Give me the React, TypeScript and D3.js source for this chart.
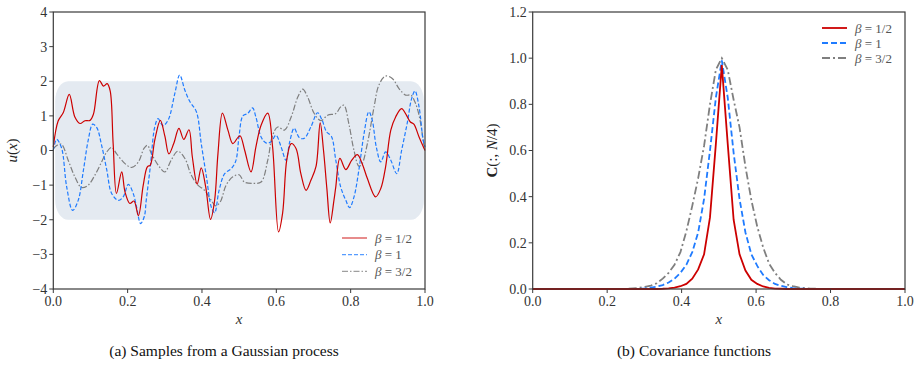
import React from 'react';
import * as d3 from 'd3';

// (a) samples
const RED_X = [0, 0.013, 0.027, 0.043, 0.058, 0.072, 0.085, 0.099, 0.108, 0.124, 0.135, 0.145, 0.153, 0.161, 0.17, 0.184, 0.193, 0.206, 0.217, 0.229, 0.242, 0.253, 0.261, 0.273, 0.288, 0.3, 0.311, 0.324, 0.338, 0.351, 0.365, 0.374, 0.387, 0.398, 0.41, 0.423, 0.434, 0.443, 0.455, 0.47, 0.483, 0.497, 0.503, 0.515, 0.532, 0.545, 0.559, 0.577, 0.59, 0.606, 0.617, 0.628, 0.64, 0.653, 0.666, 0.68, 0.693, 0.707, 0.718, 0.727, 0.736, 0.745, 0.755, 0.76, 0.771, 0.787, 0.803, 0.818, 0.831, 0.845, 0.867, 0.881, 0.894, 0.908, 0.921, 0.937, 0.95, 0.96, 0.97, 0.984, 1.0];
const RED_Y = [0.1, 0.85, 1.1, 1.62, 0.97, 0.78, 0.86, 0.87, 1.05, 2.02, 1.86, 1.93, 1.72, 0.2, -1.24, -0.62, -1.2, -1.53, -1.46, -1.88, -1.0, -0.47, -0.42, 0.3, 0.87, 0.42, -0.1, 0.2, 0.64, 0.32, 0.6, -0.18, -0.97, -0.5, -1.05, -1.99, -1.44, -0.09, 1.08, 0.58, 0.2, 0.38, 0.42, 0.0, -0.62, 0.1, 0.73, 1.08, 0.1, -2.35, -1.8, -0.28, 0.2, 0.06, -0.67, -1.15, -0.86, -0.45, 0.8, 0.0, -1.1, -2.09, -1.44, -1.05, -0.23, -0.55, -0.28, -0.12, -0.38, -0.81, -1.34, -1.1, -0.47, 0.59, 0.97, 1.21, 1.02, 0.83, 0.76, 0.39, 0.0];

const BLUE_X = [0, 0.009, 0.022, 0.036, 0.052, 0.067, 0.081, 0.094, 0.106, 0.117, 0.13, 0.144, 0.157, 0.175, 0.188, 0.202, 0.215, 0.224, 0.235, 0.245, 0.25, 0.261, 0.273, 0.282, 0.295, 0.309, 0.327, 0.34, 0.354, 0.367, 0.385, 0.398, 0.412, 0.425, 0.434, 0.446, 0.461, 0.479, 0.491, 0.5, 0.51, 0.523, 0.536, 0.545, 0.559, 0.572, 0.586, 0.599, 0.613, 0.626, 0.636, 0.648, 0.662, 0.675, 0.693, 0.711, 0.723, 0.735, 0.748, 0.76, 0.773, 0.787, 0.797, 0.809, 0.822, 0.836, 0.849, 0.858, 0.869, 0.881, 0.894, 0.908, 0.924, 0.937, 0.952, 0.964, 0.973, 0.984, 0.995, 1.0];
const BLUE_Y = [0.0, 0.32, 0.08, -1.05, -1.73, -1.44, -0.57, 0.3, 0.76, 0.66, 0.15, -0.57, -1.24, -1.44, -1.34, -0.98, -1.24, -1.63, -2.11, -1.9, -1.44, -0.47, 0.68, 0.92, 0.72, 0.88, 1.65, 2.18, 1.74, 1.42, 1.12, 0.2, -0.76, -1.63, -1.8, -1.15, -0.67, -0.52, -0.3, 0.44, 1.0, 1.07, 1.23, 0.97, 0.39, 0.22, 0.25, 0.44, 0.1, -0.28, 0.25, 0.64, 0.37, 0.35, 0.68, 1.09, 0.88, 0.54, 0.41, -0.28, -1.05, -1.44, -1.65, -1.34, -0.57, 0.49, 1.12, 0.88, 0.1, -0.33, -0.04, -0.28, -0.67, 0.0, 0.78, 1.5, 1.72, 1.26, 0.3, 0.1];

const GRAY_X = [0, 0.01, 0.022, 0.04, 0.058, 0.076, 0.094, 0.112, 0.13, 0.144, 0.157, 0.17, 0.193, 0.211, 0.229, 0.244, 0.253, 0.264, 0.282, 0.3, 0.317, 0.335, 0.354, 0.371, 0.389, 0.407, 0.425, 0.437, 0.449, 0.465, 0.483, 0.5, 0.514, 0.536, 0.559, 0.577, 0.59, 0.604, 0.622, 0.64, 0.658, 0.671, 0.684, 0.702, 0.72, 0.738, 0.76, 0.773, 0.782, 0.795, 0.809, 0.822, 0.83, 0.845, 0.863, 0.876, 0.894, 0.912, 0.93, 0.948, 0.962, 0.973, 0.984, 0.997];
const GRAY_Y = [0.05, 0.15, 0.18, -0.28, -0.76, -1.07, -1.0, -0.71, -0.33, -0.04, 0.09, -0.09, -0.38, -0.49, -0.33, 0.06, 0.15, -0.09, -0.42, -0.62, -0.28, -0.02, -0.23, -0.71, -1.0, -1.15, -1.44, -1.6, -1.49, -1.0, -0.76, -0.7, -0.91, -0.95, -0.91, -0.28, 0.44, 0.68, 0.59, 0.97, 1.55, 1.77, 1.55, 1.07, 0.86, 1.02, 1.07, 1.26, 1.31, 0.78, 0.0, -0.45, -0.4, 0.2, 1.26, 1.89, 2.15, 2.08, 1.79, 1.6, 1.6, 1.4, 1.02, 0.15];

// shaded band behind the samples
const BAND_X = [0.005, 0.997];
const BAND_Y = [-2, 2];

// (b) covariance columns on a 64-point grid
const COV_RED = [0, 0, 0, 0, 0, 0, 0, 0, 0, 0, 0, 0, 0, 0, 0, 0, 0, 0, 0, 0, 0, 0, 0.001, 0.003, 0.006, 0.012, 0.022, 0.045, 0.085, 0.15, 0.31, 0.63, 0.97, 0.63, 0.3, 0.15, 0.08, 0.04, 0.022, 0.011, 0.005, 0.002, 0.001, 0, 0, 0, 0, 0, 0, 0, 0, 0, 0, 0, 0, 0, 0, 0, 0, 0, 0, 0, 0, 0];
const COV_BLUE = [0, 0, 0, 0, 0, 0, 0, 0, 0, 0, 0, 0, 0, 0, 0, 0, 0, 0, 0.001, 0.003, 0.006, 0.01, 0.017, 0.028, 0.045, 0.07, 0.105, 0.16, 0.245, 0.39, 0.6, 0.83, 0.99, 0.83, 0.59, 0.39, 0.245, 0.15, 0.1, 0.061, 0.038, 0.022, 0.014, 0.008, 0.004, 0.002, 0.001, 0, 0, 0, 0, 0, 0, 0, 0, 0, 0, 0, 0, 0, 0, 0, 0, 0];
const COV_GRAY = [0, 0, 0, 0, 0, 0, 0, 0, 0, 0, 0, 0, 0, 0, 0, 0, 0.001, 0.003, 0.005, 0.009, 0.015, 0.025, 0.045, 0.07, 0.105, 0.16, 0.25, 0.36, 0.48, 0.62, 0.8, 0.95, 1.0, 0.95, 0.82, 0.7, 0.53, 0.385, 0.27, 0.18, 0.11, 0.07, 0.04, 0.02, 0.012, 0.007, 0.004, 0.002, 0.001, 0, 0, 0, 0, 0, 0, 0, 0, 0, 0, 0, 0, 0, 0, 0];

const X_TICKS = [0, 0.2, 0.4, 0.6, 0.8, 1.0];
const Y_TICKS_A = [-4, -3, -2, -1, 0, 1, 2, 3, 4];
const Y_TICKS_B = [0, 0.2, 0.4, 0.6, 0.8, 1.0, 1.2];
const BETAS = ['1/2', '1', '3/2'];

const SERIF = "'Liberation Serif', 'Times New Roman', 'DejaVu Serif', serif";
const COLORS = ['#cc0000', '#1f7bff', '#7f7f7f'];
const DASH_A = [null, '4 2', '6 2 1.5 2'];
const DASH_B = [null, '6 3', '8 3 2 3'];

type Box = { x0: number; x1: number; y0: number; y1: number };

function Frame({ box, x, y, yTicks, yFmt }: { box: Box; x: any; y: any; yTicks: number[]; yFmt: (v: number) => string }) {
  return (
    <g style={{ fontFamily: SERIF, fontSize: 14 }} fill="#333">
      <rect x={box.x0} y={box.y0} width={box.x1 - box.x0} height={box.y1 - box.y0} fill="none" stroke="#3a3a3a" strokeWidth={1.2} />
      {X_TICKS.map(t => (
        <g key={'x' + t}>
          <line x1={x(t)} x2={x(t)} y1={box.y1} y2={box.y1 + 4} stroke="#3a3a3a" />
          <text x={x(t)} y={box.y1 + 17} textAnchor="middle">{t.toFixed(1)}</text>
        </g>
      ))}
      {yTicks.map(t => (
        <g key={'y' + t}>
          <line x1={box.x0 - 4} x2={box.x0} y1={y(t)} y2={y(t)} stroke="#3a3a3a" />
          <text x={box.x0 - 6} y={y(t)} dy="0.35em" textAnchor="end">{yFmt(t)}</text>
        </g>
      ))}
      <text x={(box.x0 + box.x1) / 2} y={box.y1 + 35} textAnchor="middle" style={{ fontStyle: 'italic', fontSize: 15 }}>x</text>
    </g>
  );
}

function Legend({ x, y, gap, dashes, width, opacity }: { x: number; y: number; gap: number; dashes: (string | null)[]; width: number; opacity: number }) {
  return (
    <g style={{ fontFamily: SERIF, fontSize: 13 }} fill="#555">
      {BETAS.map((b, i) => (
        <g key={b}>
          <line x1={x} x2={x + 25} y1={y + i * gap} y2={y + i * gap} stroke={COLORS[i]} strokeWidth={width} strokeDasharray={dashes[i] ?? undefined} opacity={opacity} />
          <text x={x + 33} y={y + i * gap} dy="0.35em">
            <tspan style={{ fontStyle: 'italic' }}>β</tspan> = {b}
          </text>
        </g>
      ))}
    </g>
  );
}

export default function App() {
  const boxA: Box = { x0: 53.3, x1: 425, y0: 12, y1: 289 };
  const boxB: Box = { x0: 532.7, x1: 905, y0: 12, y1: 289 };

  const xa = d3.scaleLinear().domain([0, 1]).range([boxA.x0, boxA.x1]);
  const ya = d3.scaleLinear().domain([-4, 4]).range([boxA.y1, boxA.y0]);
  const xb = d3.scaleLinear().domain([0, 1]).range([boxB.x0, boxB.x1]);
  const yb = d3.scaleLinear().domain([0, 1.2]).range([boxB.y1, boxB.y0]);

  const smooth = d3.line<[number, number]>()
    .x(d => xa(d[0]))
    .y(d => ya(d[1]))
    .curve(d3.curveCatmullRom.alpha(0.5));

  const samples = [
    RED_X.map((v, i) => [v, RED_Y[i]] as [number, number]),
    BLUE_X.map((v, i) => [v, BLUE_Y[i]] as [number, number]),
    GRAY_X.map((v, i) => [v, GRAY_Y[i]] as [number, number]),
  ];

  const grid = d3.range(COV_RED.length).map(i => i / (COV_RED.length - 1));
  const straight = d3.line<number>()
    .x((_, i) => xb(grid[i]))
    .y(d => yb(d));
  const covs = [COV_RED, COV_BLUE, COV_GRAY];

  return (
    <svg width={920} height={367} style={{ position: 'absolute', left: 0, top: 0, background: '#fff' }}>
      {/* (a) */}
      <rect
        x={xa(BAND_X[0])} y={ya(BAND_Y[1])}
        width={xa(BAND_X[1]) - xa(BAND_X[0])} height={ya(BAND_Y[0]) - ya(BAND_Y[1])}
        rx={13} ry={20} fill="#e4eaf1"
      />
      {[2, 1, 0].map(i => (
        <path key={i} d={smooth(samples[i]) ?? ''} fill="none" stroke={COLORS[i]} strokeWidth={1.2} strokeDasharray={DASH_A[i] ?? undefined} />
      ))}
      <Frame box={boxA} x={xa} y={ya} yTicks={Y_TICKS_A} yFmt={v => (v < 0 ? '\u2212' + Math.abs(v) : String(v))} />
      <text transform={`translate(17,${(boxA.y0 + boxA.y1) / 2}) rotate(-90)`} textAnchor="middle" style={{ fontFamily: SERIF, fontSize: 15 }} fill="#222">
        <tspan style={{ fontStyle: 'italic' }}>u</tspan>(<tspan style={{ fontStyle: 'italic' }}>x</tspan>)
      </text>
      <Legend x={342} y={238} gap={16.7} dashes={DASH_A} width={1.2} opacity={0.75} />

      {/* (b) */}
      {[2, 1, 0].map(i => (
        <path key={i} d={straight(covs[i]) ?? ''} fill="none" stroke={COLORS[i]} strokeWidth={1.8} strokeDasharray={DASH_B[i] ?? undefined} />
      ))}
      <Frame box={boxB} x={xb} y={yb} yTicks={Y_TICKS_B} yFmt={v => v.toFixed(1)} />
      <text transform={`translate(497,${(boxB.y0 + boxB.y1) / 2}) rotate(-90)`} textAnchor="middle" style={{ fontFamily: SERIF, fontSize: 15 }} fill="#222">
        <tspan style={{ fontWeight: 'bold' }}>C</tspan>(:, <tspan style={{ fontStyle: 'italic' }}>N</tspan>/4)
      </text>
      <Legend x={822} y={28} gap={15} dashes={DASH_B} width={1.8} opacity={1} />

      {/* captions */}
      <g style={{ fontFamily: SERIF, fontSize: 15.5 }} fill="#111" textAnchor="middle">
        <text x={224} y={356}>(a) Samples from a Gaussian process</text>
        <text x={694} y={356}>(b) Covariance functions</text>
      </g>
    </svg>
  );
}
